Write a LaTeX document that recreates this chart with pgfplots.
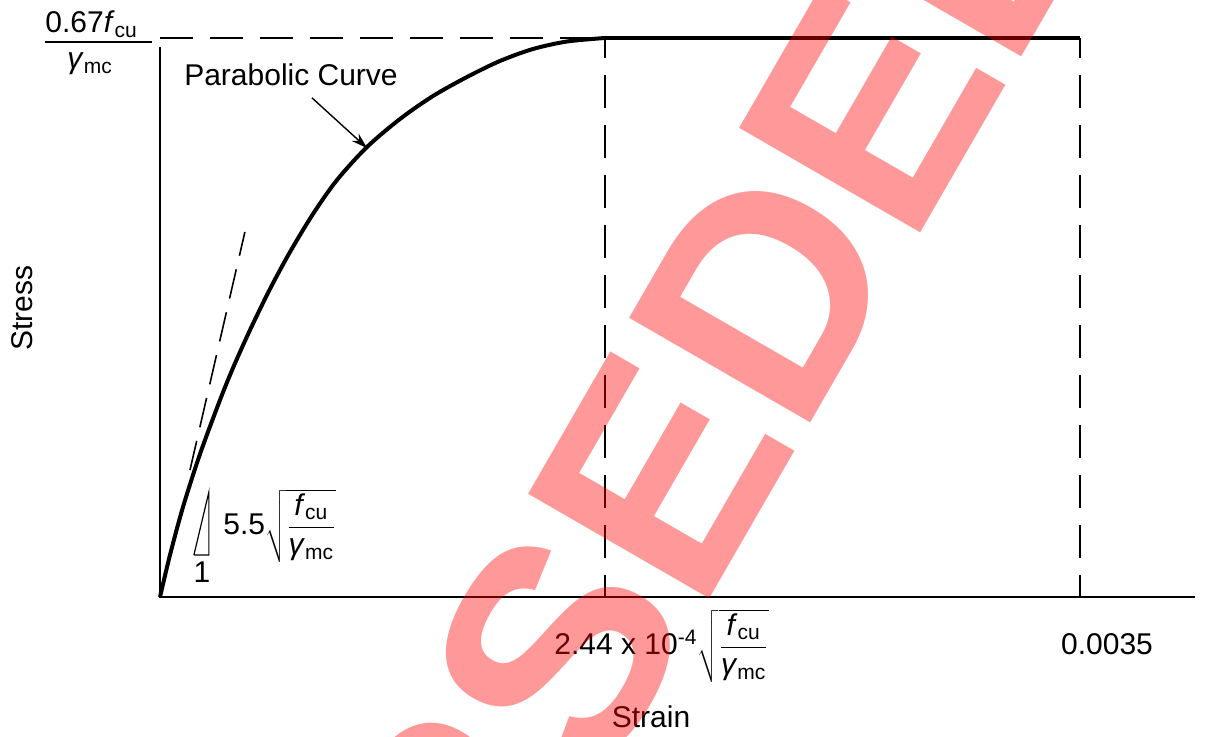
\documentclass[border=0pt]{standalone}
\usepackage{fontspec}
\setmainfont{Liberation Sans}
\usepackage{pgfplots}
\pgfplotsset{compat=1.18}
\usetikzlibrary{arrows.meta}

\newcommand{\lab}{\fontsize{15}{18}\selectfont}
\newcommand{\fcu}{\textit{f}\textsubscript{cu}}
\newcommand{\gmc}{\textit{γ}\textsubscript{mc}}
\newcommand{\rootfrac}{$\sqrt{\displaystyle\frac{\mbox{\fcu}}{\mbox{\gmc}}}$}

\begin{document}
\begin{tikzpicture}
\useasboundingbox (0,0) rectangle (602.5pt,368.5pt);
\clip (0,0) rectangle (602.5pt,368.5pt);
\begin{axis}[
  at={(80pt,70pt)}, anchor=south west,
  scale only axis,
  width=517.5pt, height=279.5pt,
  xmin=0, xmax=3.9375,
  ymin=0, ymax=1,
  hide axis,
  clip=false,
]
% axes
\addplot[black, line width=1pt] coordinates {(0,0.984) (0,0) (3.9375,0)};
% guide lines
\addplot[black, line width=1.2pt, dash pattern=on 16.5pt off 8.5pt] coordinates {(0,1) (1.693,1)};
\addplot[black, line width=1.2pt, dash pattern=on 16.5pt off 8.5pt, dash phase=6.5pt] coordinates {(1.693,1) (1.693,0)};
\addplot[black, line width=1.2pt, dash pattern=on 16.5pt off 8.5pt, dash phase=6.5pt] coordinates {(3.5,1) (3.5,0)};
% initial tangent
\addplot[black, line width=0.8pt, dash pattern=on 15pt off 7pt] coordinates {(0.114,0.227) (0.323,0.653)};
% slope triangle
\addplot[black, line width=0.6pt] coordinates {(0.129,0.0751) (0.186,0.0751) (0.186,0.1878) (0.129,0.0751)};
% stress-strain curve (strain x 10^3, stress / peak)
\addplot[black, line width=2pt, smooth, tension=0.5] coordinates {
  (0,0) (0.038,0.0751) (0.0875,0.1610) (0.1522,0.2558) (0.2283,0.3524)
  (0.2777,0.4097) (0.3424,0.4776) (0.4185,0.5510) (0.4946,0.6172)
  (0.5821,0.6852) (0.6734,0.7460) (0.7875,0.8050) (0.9130,0.8551)
  (1.0386,0.8962) (1.1679,0.9302) (1.2935,0.9589) (1.4190,0.9803)
  (1.5484,0.9937) (1.6929,1.0)
};
\addplot[black, line width=2pt] coordinates {(1.6929,1) (3.5,1)};
\draw[black, line width=0.7pt, -{Stealth[length=8pt,width=5pt]}] (axis cs:0.578,0.893) -- (axis cs:0.788,0.803);
\end{axis}

% labels
\node[anchor=center, font=\lab] at (145.5pt,331pt) {Parabolic Curve};
\node[anchor=center, rotate=90, font=\lab] at (11pt,214.5pt) {Stress};
\node[anchor=base, font=\lab] at (325.5pt,4.5pt) {Strain};
\node[anchor=base, font=\lab] at (553.5pt,41pt) {0.0035};
\node[anchor=base west, inner sep=0, font=\lab] at (277pt,41pt) {2.44 x 10\textsuperscript{-4}\rootfrac};
\node[anchor=base, inner sep=0, font=\lab] at (101pt,77pt) {1};
\node[anchor=base west, inner sep=0, font=\lab] at (111.5pt,101pt) {5.5\rootfrac};
\node[anchor=base west, inner sep=0, font=\lab] at (22.5pt,352pt) {0.67\fcu};
\draw[black, line width=0.8pt] (22.5pt,347.5pt) -- (76pt,347.5pt);
\node[anchor=base west, inner sep=0, font=\lab] at (33.5pt,334pt) {\gmc};

% watermark
\node[rotate=60, anchor=base west, inner sep=0, text=red, text opacity=0.4,
  font=\fontsize{152}{152}\selectfont\bfseries] at (37pt,-481pt) {SUPERSEDED};
\end{tikzpicture}
\end{document}
